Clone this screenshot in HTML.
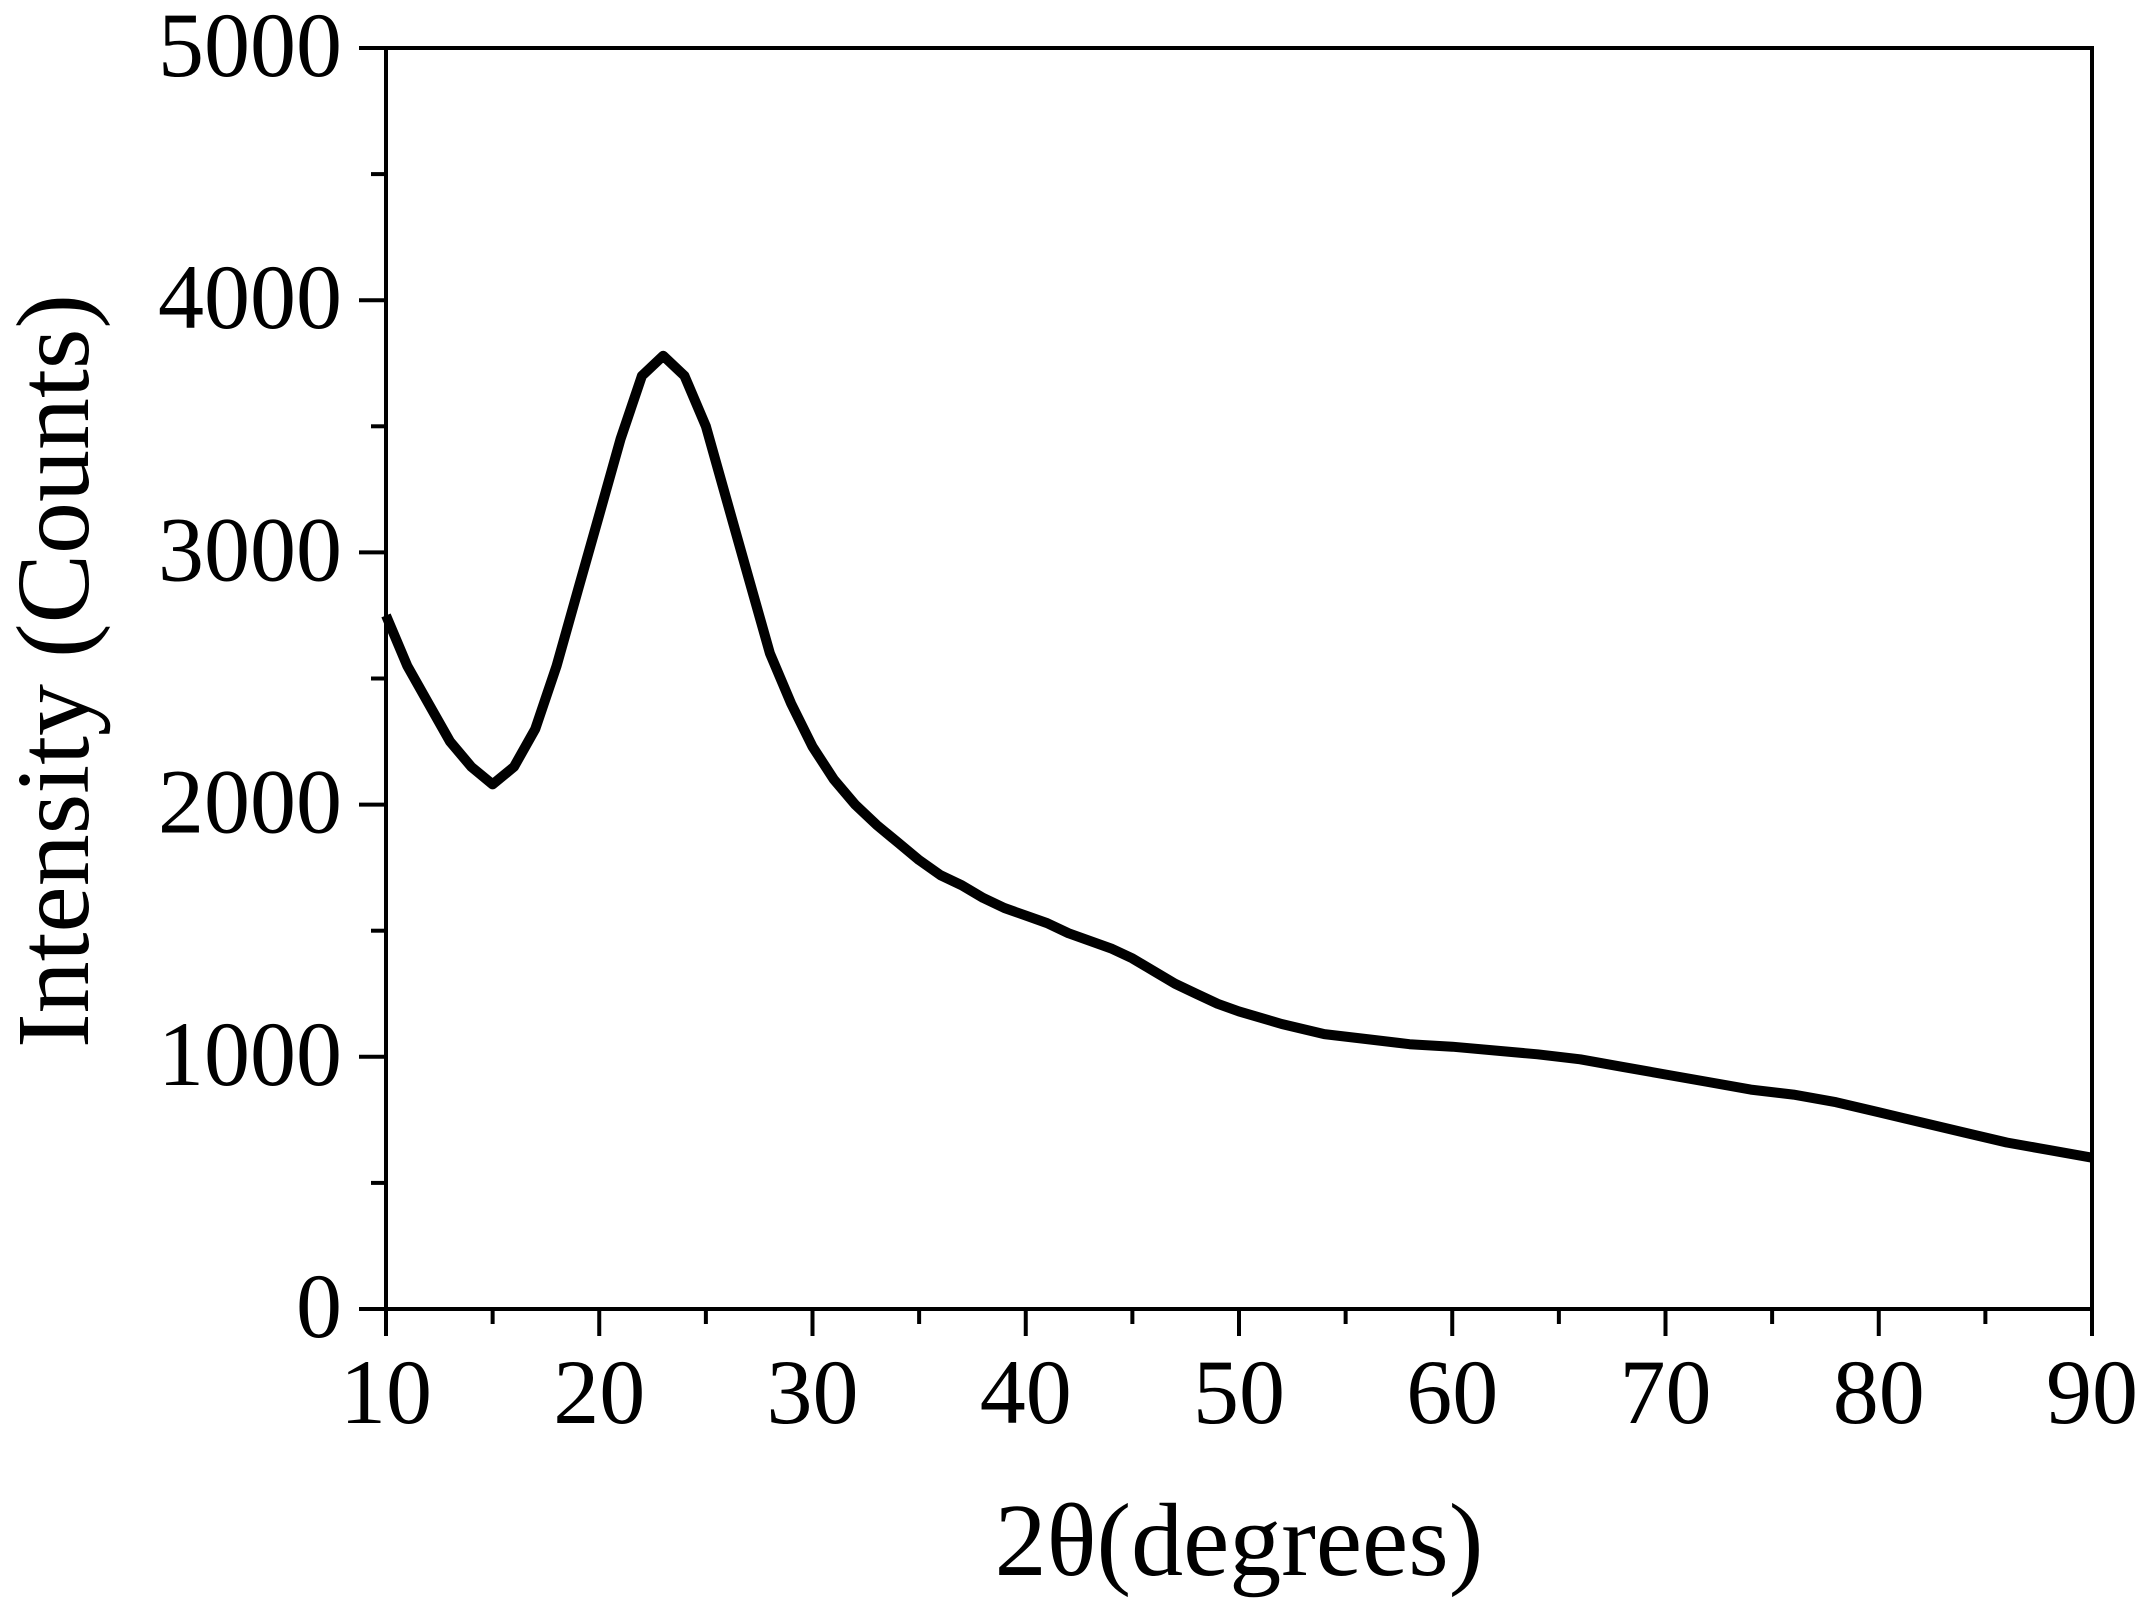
<!DOCTYPE html>
<html><head><meta charset="utf-8"><style>
html,body{margin:0;padding:0;background:#fff;}
svg{display:block;font-family:"Liberation Serif",serif;}
</style></head><body>
<svg id="chart" width="2147" height="1611" viewBox="0 0 2147 1611" xmlns="http://www.w3.org/2000/svg">
<g id="axes"></g>
<g id="series"></g>
<text transform="translate(88,671) rotate(-90)" text-anchor="middle" font-size="104">Intensity (Counts)</text>
<text x="1239" y="1575" text-anchor="middle" font-size="104">2θ(degrees)</text>
</svg>
<script>
const xValues = [10,11,12,13,14,15,16,17,18,19,20,21,22,23,24,25,26,27,28,29,30,31,32,33,34,35,36,37,38,39,40,41,42,43,44,45,46,47,48,49,50,52,54,56,58,60,62,64,66,68,70,72,74,76,78,80,82,84,86,88,90];
const intensity = [2750,2550,2400,2250,2150,2080,2150,2300,2550,2850,3150,3450,3700,3780,3700,3500,3200,2900,2600,2400,2230,2100,2000,1920,1850,1780,1720,1680,1630,1590,1560,1530,1490,1460,1430,1390,1340,1290,1250,1210,1180,1130,1090,1070,1050,1040,1025,1010,990,960,930,900,870,850,820,780,740,700,660,630,600];
const xTicks = [10,20,30,40,50,60,70,80,90];
const yTicks = [0,1000,2000,3000,4000,5000];

const L=386,R=2092,T=48,B=1309;
const xs=v=>L+(v-10)/80*(R-L);
const ys=v=>B-v/5000*(B-T);
const NS="http://www.w3.org/2000/svg";
const axes=document.getElementById('axes');
function mk(tag,attrs,parent){const e=document.createElementNS(NS,tag);for(const k in attrs)e.setAttribute(k,attrs[k]);parent.appendChild(e);return e;}

const frame=mk('rect',{x:L,y:T,width:R-L,height:B-T,fill:'none',stroke:'#000','stroke-width':4},axes);



for(let v=10;v<=90;v+=5){
  const major=xTicks.includes(v);
  const t=mk('line',{x1:xs(v),x2:xs(v),y1:B,y2:B+(major?27:15),stroke:'#000','stroke-width':4},axes);
  
  
}
xTicks.forEach(v=>{
  const t=mk('text',{x:xs(v),y:1423,'text-anchor':'middle','font-size':92},axes);
  t.textContent=v;
  
  
});
for(let v=0;v<=5000;v+=500){
  const major=yTicks.includes(v);
  const t=mk('line',{x1:L,x2:L-(major?27:15),y1:ys(v),y2:ys(v),stroke:'#000','stroke-width':4},axes);
  
  
}
yTicks.forEach(v=>{
  const t=mk('text',{x:342,y:ys(v)+28,'text-anchor':'end','font-size':92},axes);
  t.textContent=v;
  
  
});

const d=xValues.map((x,i)=>(i?'L':'M')+xs(x).toFixed(1)+','+ys(intensity[i]).toFixed(1)).join(' ');
const p=mk('path',{d:d,fill:'none',stroke:'#000','stroke-width':10,'stroke-linejoin':'round'},document.getElementById('series'));


</script>
</body></html>
